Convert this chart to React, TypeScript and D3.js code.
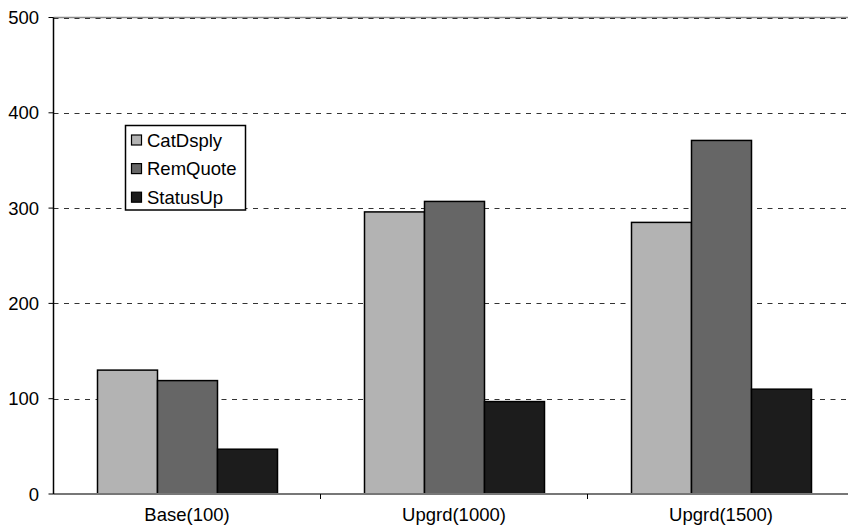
import React from "react";
import * as d3 from "d3";

const categories = ["Base(100)", "Upgrd(1000)", "Upgrd(1500)"];
const seriesNames = ["CatDsply", "RemQuote", "StatusUp"];
const catDsply = [130, 296, 285];
const remQuote = [119, 307, 371];
const statusUp = [47, 97, 110];
const yTicks = [0, 100, 200, 300, 400, 500];
const seriesColors = ["#b3b3b3", "#666666", "#1c1c1c"];

const seriesValues = [catDsply, remQuote, statusUp];

export default function App() {
  const W = 848;
  const H = 532;
  const x0 = 53.5;
  const bandW = 267;
  const yTop = 17.5;
  const yBot = 494;
  const font = "Arial, 'Liberation Sans', sans-serif";

  const x = d3
    .scaleBand<string>()
    .domain(categories)
    .range([x0, x0 + bandW * categories.length])
    .padding(0);
  const xs = d3.scaleBand<string>().domain(seriesNames).range([44, 224]).padding(0);
  const y = d3.scaleLinear().domain([0, 500]).range([yBot, yTop]);

  return (
    <svg
      width={W}
      height={H}
      style={{ position: "absolute", left: 0, top: 0, background: "#fff" }}
      fontFamily={font}
    >
      {/* top border */}
      <line x1={x0} x2={W} y1={y(500)} y2={y(500)} stroke="#888" strokeWidth={1.5} />
      {/* gridlines */}
      {yTicks
        .filter((t) => t > 0)
        .map((t) => (
          <line
            key={"g" + t}
            x1={x0}
            x2={W}
            y1={Math.round(y(t)) + 0.5}
            y2={Math.round(y(t)) + 0.5}
            stroke="#333"
            strokeWidth={1}
            strokeDasharray="5,5.5"
          />
        ))}
      {/* bars */}
      {categories.map((c, ci) =>
        seriesNames.map((s, si) => {
          const v = seriesValues[si][ci];
          const bx = (x(c) as number) + (xs(s) as number);
          return (
            <rect
              key={c + s}
              x={bx}
              y={y(v)}
              width={xs.bandwidth()}
              height={y(0) - y(v)}
              fill={seriesColors[si]}
              stroke="#000"
              strokeWidth={1.5}
            />
          );
        })
      )}
      {/* x axis */}
      <line x1={x0} x2={W} y1={yBot} y2={yBot} stroke="#777" strokeWidth={2} />
      {categories.slice(1).map((c) => (
        <line
          key={"xt" + c}
          x1={x(c) as number}
          x2={x(c) as number}
          y1={yBot}
          y2={yBot + 5}
          stroke="#000"
          strokeWidth={1}
        />
      ))}
      {categories.map((c) => (
        <text
          key={"xl" + c}
          x={(x(c) as number) + bandW / 2}
          y={521}
          textAnchor="middle"
          fontSize={18.5}
          fill="#000"
        >
          {c}
        </text>
      ))}
      {/* y axis */}
      <line x1={x0} x2={x0} y1={yTop} y2={yBot} stroke="#000" strokeWidth={1.5} />
      {yTicks.map((t) => (
        <g key={"yt" + t}>
          <line x1={x0 - 5} x2={x0} y1={y(t)} y2={y(t)} stroke="#000" strokeWidth={1} />
          <text x={39} y={y(t) + 6.5} textAnchor="end" fontSize={18.5} fill="#000">
            {t}
          </text>
        </g>
      ))}
      {/* legend */}
      <rect x={125.5} y={125.5} width={120} height={84.5} fill="#fff" stroke="#000" strokeWidth={1.5} />
      {seriesNames.map((s, i) => {
        const cy = 140 + i * 28.6;
        return (
          <g key={"lg" + s}>
            <rect x={131.5} y={cy - 5} width={10} height={10} fill={seriesColors[i]} stroke="#000" strokeWidth={1.2} />
            <text x={147} y={cy + 6.5} fontSize={18.5} fill="#000">
              {s}
            </text>
          </g>
        );
      })}
    </svg>
  );
}
